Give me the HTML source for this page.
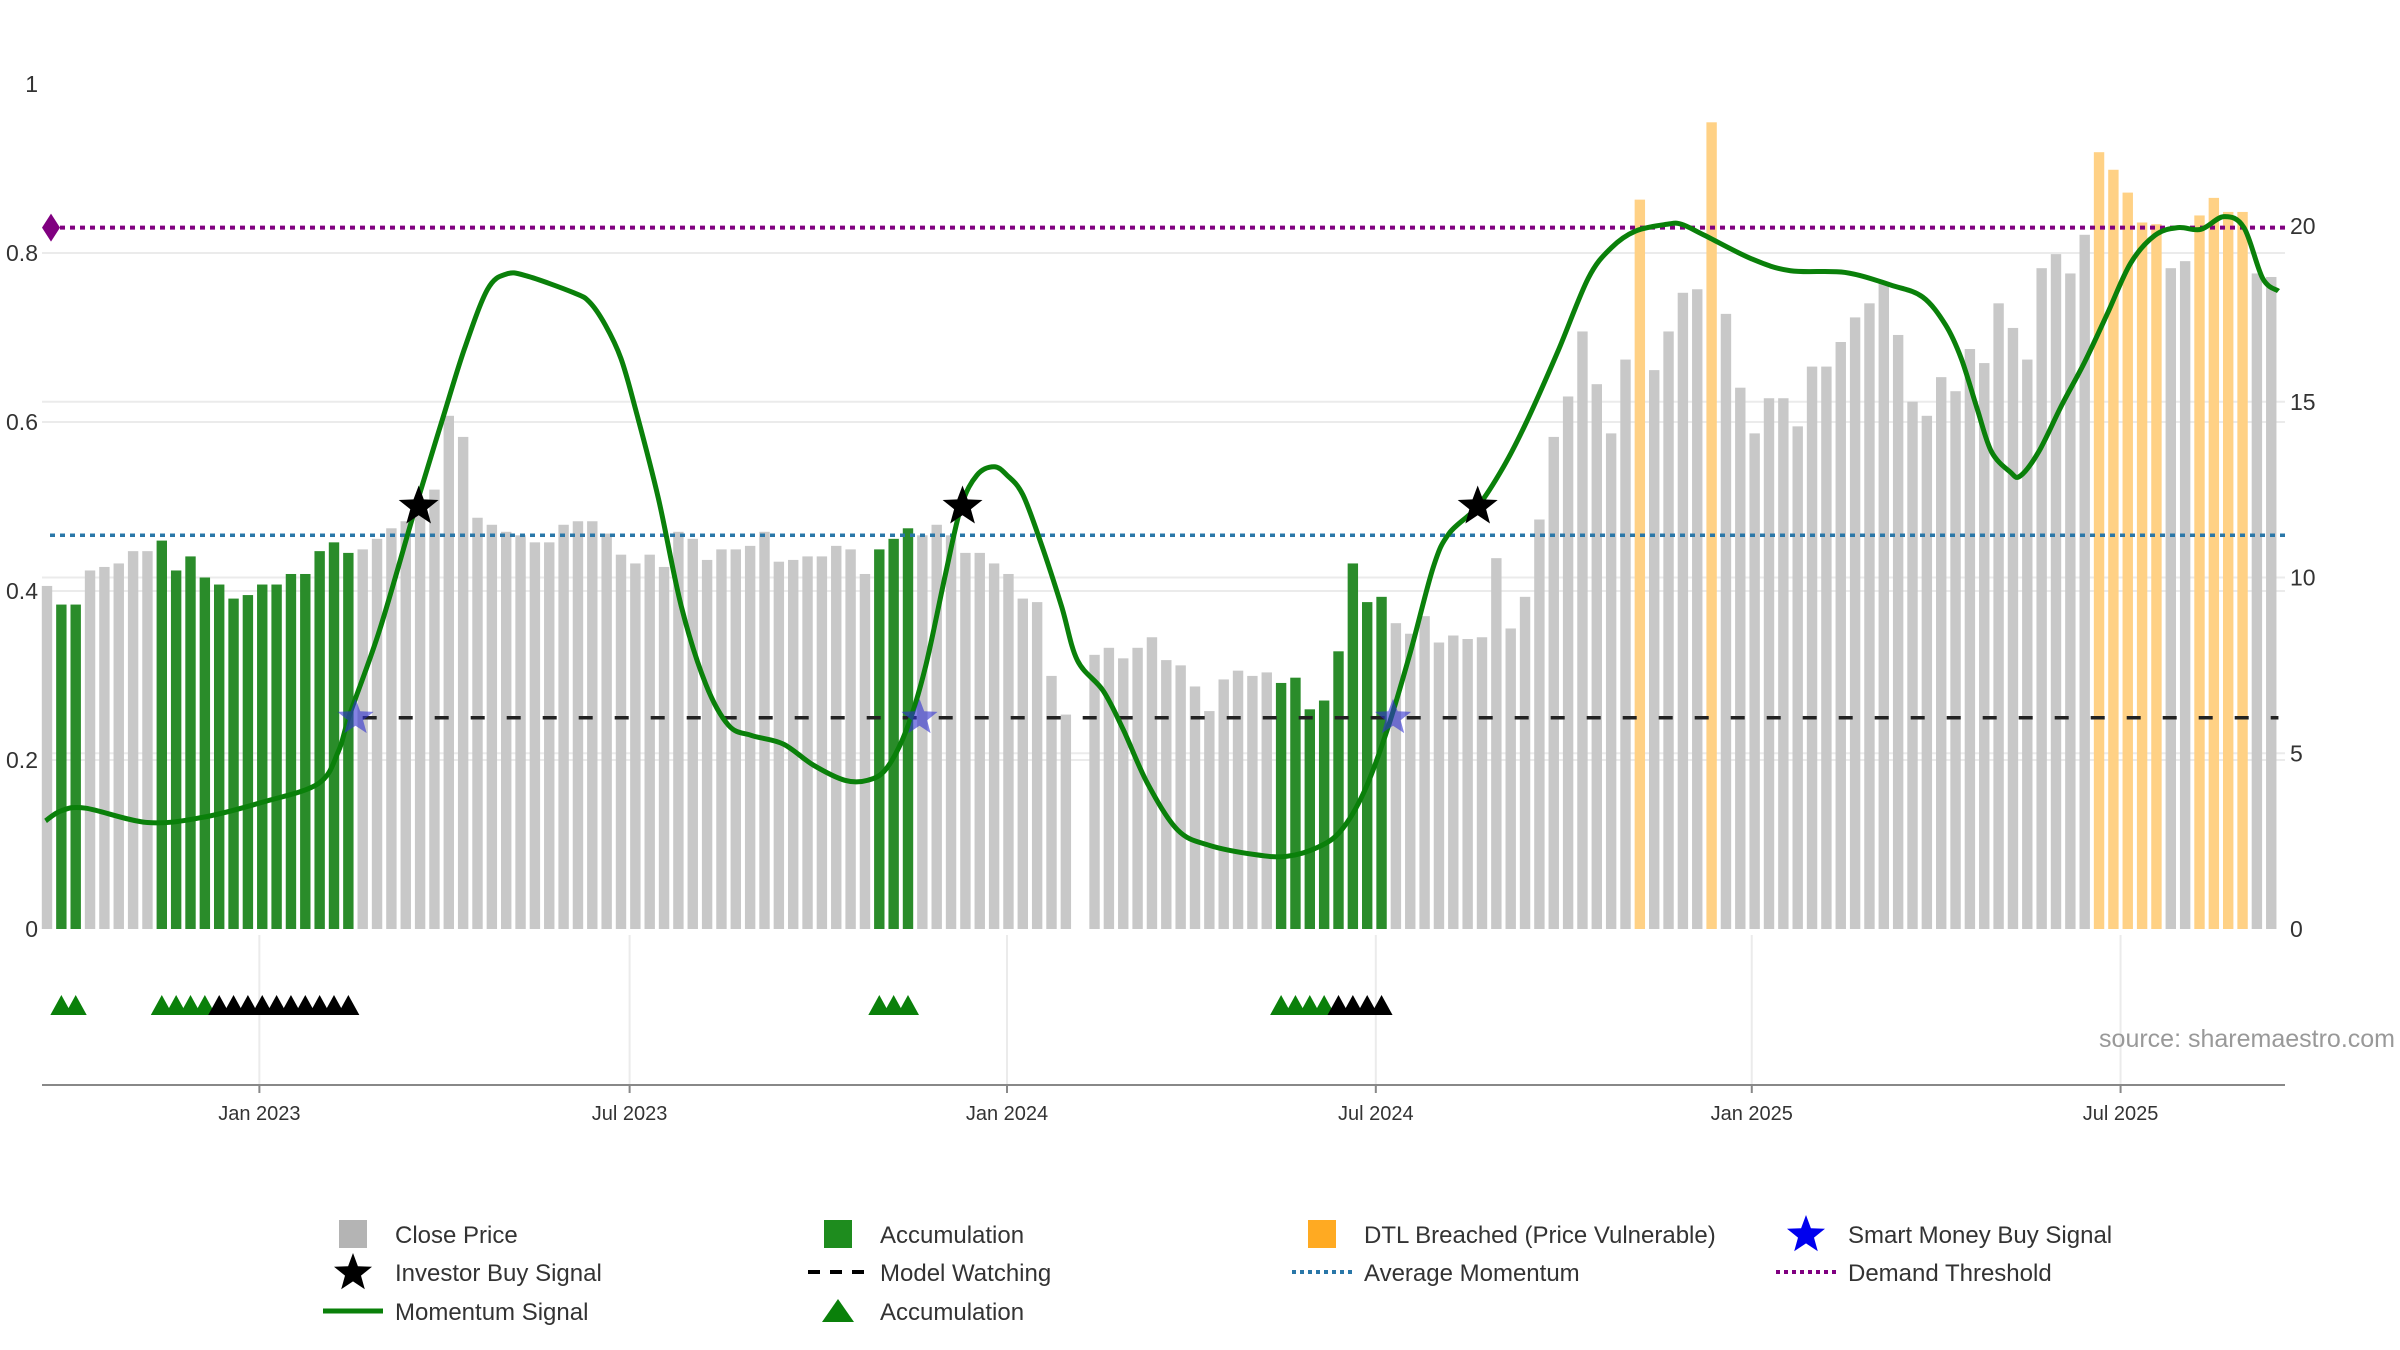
<!DOCTYPE html>
<html><head><meta charset="utf-8">
<style>
html,body{margin:0;padding:0;background:#fff;}
svg{display:block;font-family:"Liberation Sans","DejaVu Sans",sans-serif;}
</style></head>
<body>
<svg id="chart" width="2400" height="1350" viewBox="0 0 2400 1350" xmlns="http://www.w3.org/2000/svg">
<g id="grid"></g>
<g id="bars"></g>
<g id="lines"></g>
<g id="mom"></g>
<g id="marks"></g>
<g id="axes"></g>
<text x="2395" y="1047" text-anchor="end" font-size="25" fill="#999">source: sharemaestro.com</text>
<g id="legend"></g>
</svg>
<script>
const closeValues=[9.76,9.23,9.23,10.2,10.3,10.4,10.75,10.75,11.05,10.2,10.6,10.0,9.8,9.4,9.5,9.8,9.8,10.1,10.1,10.75,11.0,10.7,10.8,11.1,11.4,11.6,12.0,12.5,14.6,14.0,
11.7,11.5,11.3,11.2,11.0,11.0,11.5,11.6,11.6,11.25,10.65,10.4,10.65,10.3,11.3,11.1,10.5,10.8,10.8,10.9,11.3,10.45,10.5,10.6,10.6,10.9,10.8,10.1,
10.8,11.1,11.4,
11.2,11.5,11.2,10.7,10.7,10.4,10.1,9.4,9.3,7.2,6.1,
null,
7.8,8.0,7.7,8.0,8.3,7.65,7.5,6.9,
6.2,7.1,7.35,7.2,7.3,7.0,7.15,6.25,6.5,7.9,10.4,9.3,9.45,8.7,8.4,8.9,8.15,8.35,8.25,8.3,10.55,8.55,9.45,11.65,14.0,15.15,17.0,15.5,14.1,16.2,
20.75,15.9,17.0,18.1,18.2,22.95,17.5,15.4,14.1,15.1,15.1,14.3,16.0,16.0,16.7,17.4,17.8,18.4,16.9,15.0,14.6,15.7,15.3,16.5,16.1,17.8,17.1,16.2,18.8,19.2,18.65,19.75,
22.1,21.6,20.95,20.1,20.05,18.8,19.0,20.3,20.8,20.4,20.4,18.65,18.55];
const accumIdx=[1,2,8,9,10,11,12,13,14,15,16,17,18,19,20,21,58,59,60,86,87,88,89,90,91,92,93];
const dtlIdx=[111,116,143,144,145,146,147,150,151,152,153];
const momIdx=[-0.1,1,2.7,7,10.8,15,18.9,20.3,21.1,23.2,25.7,27.5,29.1,30.7,32,33.4,36.7,37.8,38.9,40,41,42.6,44.2,45.9,47.5,49.1,51.3,53.4,55.6,57.2,58.5,59.9,61.2,62.6,63.7,64.8,66,66.9,68,69.3,70.7,71.8,73.6,75,76.7,78.8,81,84.2,86.4,88.6,90.2,91.8,93.4,95,96.6,97.7,99.7,101.5,103.1,105.3,107.4,109,110.7,112.9,113.9,115.5,118.8,121.5,125.3,128.5,130.7,132.3,133.4,134.5,135.5,136.8,137.5,138.8,140.4,142,143.6,145.2,146.9,148.5,150.1,151.7,153.1,154.4,155.5];
const momVal=[0.128,0.14,0.143,0.126,0.132,0.15,0.172,0.21,0.254,0.355,0.50,0.60,0.687,0.757,0.775,0.773,0.753,0.742,0.715,0.675,0.616,0.51,0.382,0.29,0.241,0.229,0.219,0.194,0.176,0.176,0.19,0.236,0.309,0.419,0.50,0.537,0.547,0.537,0.514,0.455,0.382,0.318,0.282,0.236,0.172,0.117,0.099,0.088,0.086,0.097,0.117,0.163,0.236,0.327,0.428,0.468,0.50,0.547,0.60,0.684,0.77,0.806,0.826,0.834,0.834,0.821,0.793,0.779,0.777,0.762,0.748,0.715,0.675,0.616,0.565,0.541,0.536,0.565,0.62,0.671,0.729,0.788,0.821,0.83,0.828,0.843,0.83,0.77,0.755];
const investorIdx=[25.9,63.8,99.7];
const investorVal=[0.5,0.5,0.5];
const smartIdx=[21.5,60.8,93.8];
const smartVal=[0.25,0.25,0.25];
const triGreenIdx=[1,2,8,9,10,11,58,59,60,86,87,88,89];
const triBlackIdx=[12,13,14,15,16,17,18,19,20,21,90,91,92,93];
const demandThreshold=0.83, avgMomentum=0.466, modelWatching=0.25;
const watchStart=22, watchEnd=155.5;
const dateTicks=["Jan 2023","Jul 2023","Jan 2024","Jul 2024","Jan 2025","Jul 2025"];
const dateTickIdx=[14.8,40.6,66.9,92.6,118.8,144.5];
const leftTicks=[0,0.2,0.4,0.6,0.8,1];
const leftTickLabels=["0","0.2","0.4","0.6","0.8","1"];
const rightTicks=[0,5,10,15,20];

const NS="http://www.w3.org/2000/svg";
const X0=47, STEP=14.35, PL=42, PR=2285;
const xS=i=>X0+i*STEP;
const yL=v=>929-845*v;
const yR=v=>929-35.15*v;
function mk(p,tag,at){const e=document.createElementNS(NS,tag);for(const k in at)e.setAttribute(k,at[k]);p.appendChild(e);return e;}
const G=id=>document.getElementById(id);

// grid
const grid=G('grid');
[0.2,0.4,0.6,0.8].forEach(v=>{const l=mk(grid,'line',{x1:PL,x2:PR,y1:yL(v),y2:yL(v),stroke:'#ebebeb','stroke-width':2});
});
[5,10,15].forEach(v=>{const l=mk(grid,'line',{x1:PL,x2:PR,y1:yR(v),y2:yR(v),stroke:'#ebebeb','stroke-width':2});
});
dateTickIdx.forEach(t=>{const l=mk(grid,'line',{x1:xS(t),x2:xS(t),y1:935,y2:1085,stroke:'#ebebeb','stroke-width':2});
});

// bars
const bars=G('bars');
closeValues.forEach((v,i)=>{if(v===null)return;
 let fill='#c8c8c8',nm='close-price-bar';
 if(accumIdx.includes(i)){fill='#2a8c2a';nm='accumulation-bar';}
 if(dtlIdx.includes(i)){fill='#ffd185';nm='dtl-breached-bar';}
 const r=mk(bars,'rect',{x:xS(i)-5.2,y:yR(v),width:10.4,height:929-yR(v),fill:fill});
 });

// reference lines
const lines=G('lines');
let l1=mk(lines,'line',{x1:PL+8,x2:PR,y1:yL(demandThreshold),y2:yL(demandThreshold),stroke:'#800080','stroke-width':4,'stroke-dasharray':'5 5'});

let dm=mk(lines,'path',{d:`M${PL} ${yL(demandThreshold)} l9 -14 l9 14 l-9 14 z`,fill:'#800080'});

let l2=mk(lines,'line',{x1:PL+8,x2:PR,y1:yL(avgMomentum),y2:yL(avgMomentum),stroke:'#2a77a8','stroke-width':3.5,'stroke-dasharray':'5 5'});

let l3=mk(lines,'line',{x1:xS(watchStart),x2:xS(watchEnd),y1:yL(modelWatching),y2:yL(modelWatching),stroke:'#222','stroke-width':3.5,'stroke-dasharray':'14 22'});


// momentum
const pts=momIdx.map((t,i)=>[xS(t),yL(momVal[i])]);
let d=`M${pts[0][0]} ${pts[0][1]}`;
for(let i=0;i<pts.length-1;i++){const p0=pts[Math.max(0,i-1)],p1=pts[i],p2=pts[i+1],p3=pts[Math.min(pts.length-1,i+2)];
 d+=` C${p1[0]+(p2[0]-p0[0])/6} ${p1[1]+(p2[1]-p0[1])/6} ${p2[0]-(p3[0]-p1[0])/6} ${p2[1]-(p3[1]-p1[1])/6} ${p2[0]} ${p2[1]}`;}
let mp=mk(G('mom'),'path',{d:d,fill:'none',stroke:'#0a800a','stroke-width':5,'stroke-linejoin':'round'});


// markers
function starPath(cx,cy,R){let s='';for(let k=0;k<10;k++){const r=k%2?R*0.42:R;const a=-Math.PI/2+k*Math.PI/5;s+=(k?'L':'M')+(cx+r*Math.cos(a)).toFixed(1)+' '+(cy+r*Math.sin(a)).toFixed(1);}return s+'Z';}
const marks=G('marks');
smartIdx.forEach((t,i)=>{const s=mk(marks,'path',{d:starPath(xS(t),yL(smartVal[i]),19),fill:'#3030d0','fill-opacity':0.6});
 });
investorIdx.forEach((t,i)=>{const s=mk(marks,'path',{d:starPath(xS(t),yL(investorVal[i]),21),fill:'#000'});
 });
function tri(t,color,nm){const x=xS(t);const p=mk(marks,'path',{d:`M${x-11} 1015 L${x} 995 L${x+11} 1015Z`,fill:color});
 }
triGreenIdx.forEach(t=>tri(t,'#0a800a','accumulation-triangle'));
triBlackIdx.forEach(t=>tri(t,'#000','watch-triangle'));

// axes
const axes=G('axes');
let ax=mk(axes,'line',{x1:PL,x2:PR,y1:1085,y2:1085,stroke:'#888','stroke-width':2});

dateTicks.forEach((lab,i)=>{const x=xS(dateTickIdx[i]);
 const tk=mk(axes,'line',{x1:x,x2:x,y1:1085,y2:1093,stroke:'#888','stroke-width':2});
 
 const tx=mk(axes,'text',{x:x,y:1120,'text-anchor':'middle','font-size':20,fill:'#333'});tx.textContent=lab;
 });
leftTicks.forEach((v,i)=>{const tx=mk(axes,'text',{x:38,y:yL(v)+8,'text-anchor':'end','font-size':23,fill:'#333'});tx.textContent=leftTickLabels[i];
 });
rightTicks.forEach(v=>{const tx=mk(axes,'text',{x:2290,y:yR(v)+8,'font-size':23,fill:'#333'});tx.textContent=String(v);
 });

// legend
const lg=G('legend');
const cols=[353,838,1322,1806], rows=[1234,1272,1311];
const items=[
 [0,0,'sq','#b4b4b4','Close Price'],[1,0,'sq','#1e8c1e','Accumulation'],[2,0,'sq','#ffaa22','DTL Breached (Price Vulnerable)'],[3,0,'star','#0000ee','Smart Money Buy Signal'],
 [0,1,'star','#000','Investor Buy Signal'],[1,1,'dash','#000','Model Watching'],[2,1,'dot','#2a77a8','Average Momentum'],[3,1,'dot','#800080','Demand Threshold'],
 [0,2,'line','#0a800a','Momentum Signal'],[1,2,'tri','#0a800a','Accumulation']];
items.forEach(it=>{const cx=cols[it[0]],cy=rows[it[1]],c=it[3];let e;
 if(it[2]==='sq')e=mk(lg,'rect',{x:cx-14,y:cy-14,width:28,height:28,fill:c});
 else if(it[2]==='star')e=mk(lg,'path',{d:starPath(cx,cy+1,20),fill:c});
 else if(it[2]==='dash')e=mk(lg,'line',{x1:cx-30,x2:cx+30,y1:cy,y2:cy,stroke:c,'stroke-width':4,'stroke-dasharray':'12 10'});
 else if(it[2]==='dot')e=mk(lg,'line',{x1:cx-30,x2:cx+30,y1:cy,y2:cy,stroke:c,'stroke-width':4,'stroke-dasharray':'4 4'});
 else if(it[2]==='line')e=mk(lg,'line',{x1:cx-30,x2:cx+30,y1:cy,y2:cy,stroke:c,'stroke-width':5});
 else e=mk(lg,'path',{d:`M${cx-16} ${cy+11} L${cx} ${cy-12} L${cx+16} ${cy+11}Z`,fill:c});
 
 const t=mk(lg,'text',{x:cx+42,y:cy+9,'font-size':24,fill:'#333'});t.textContent=it[4];
 });
</script>
</body></html>
